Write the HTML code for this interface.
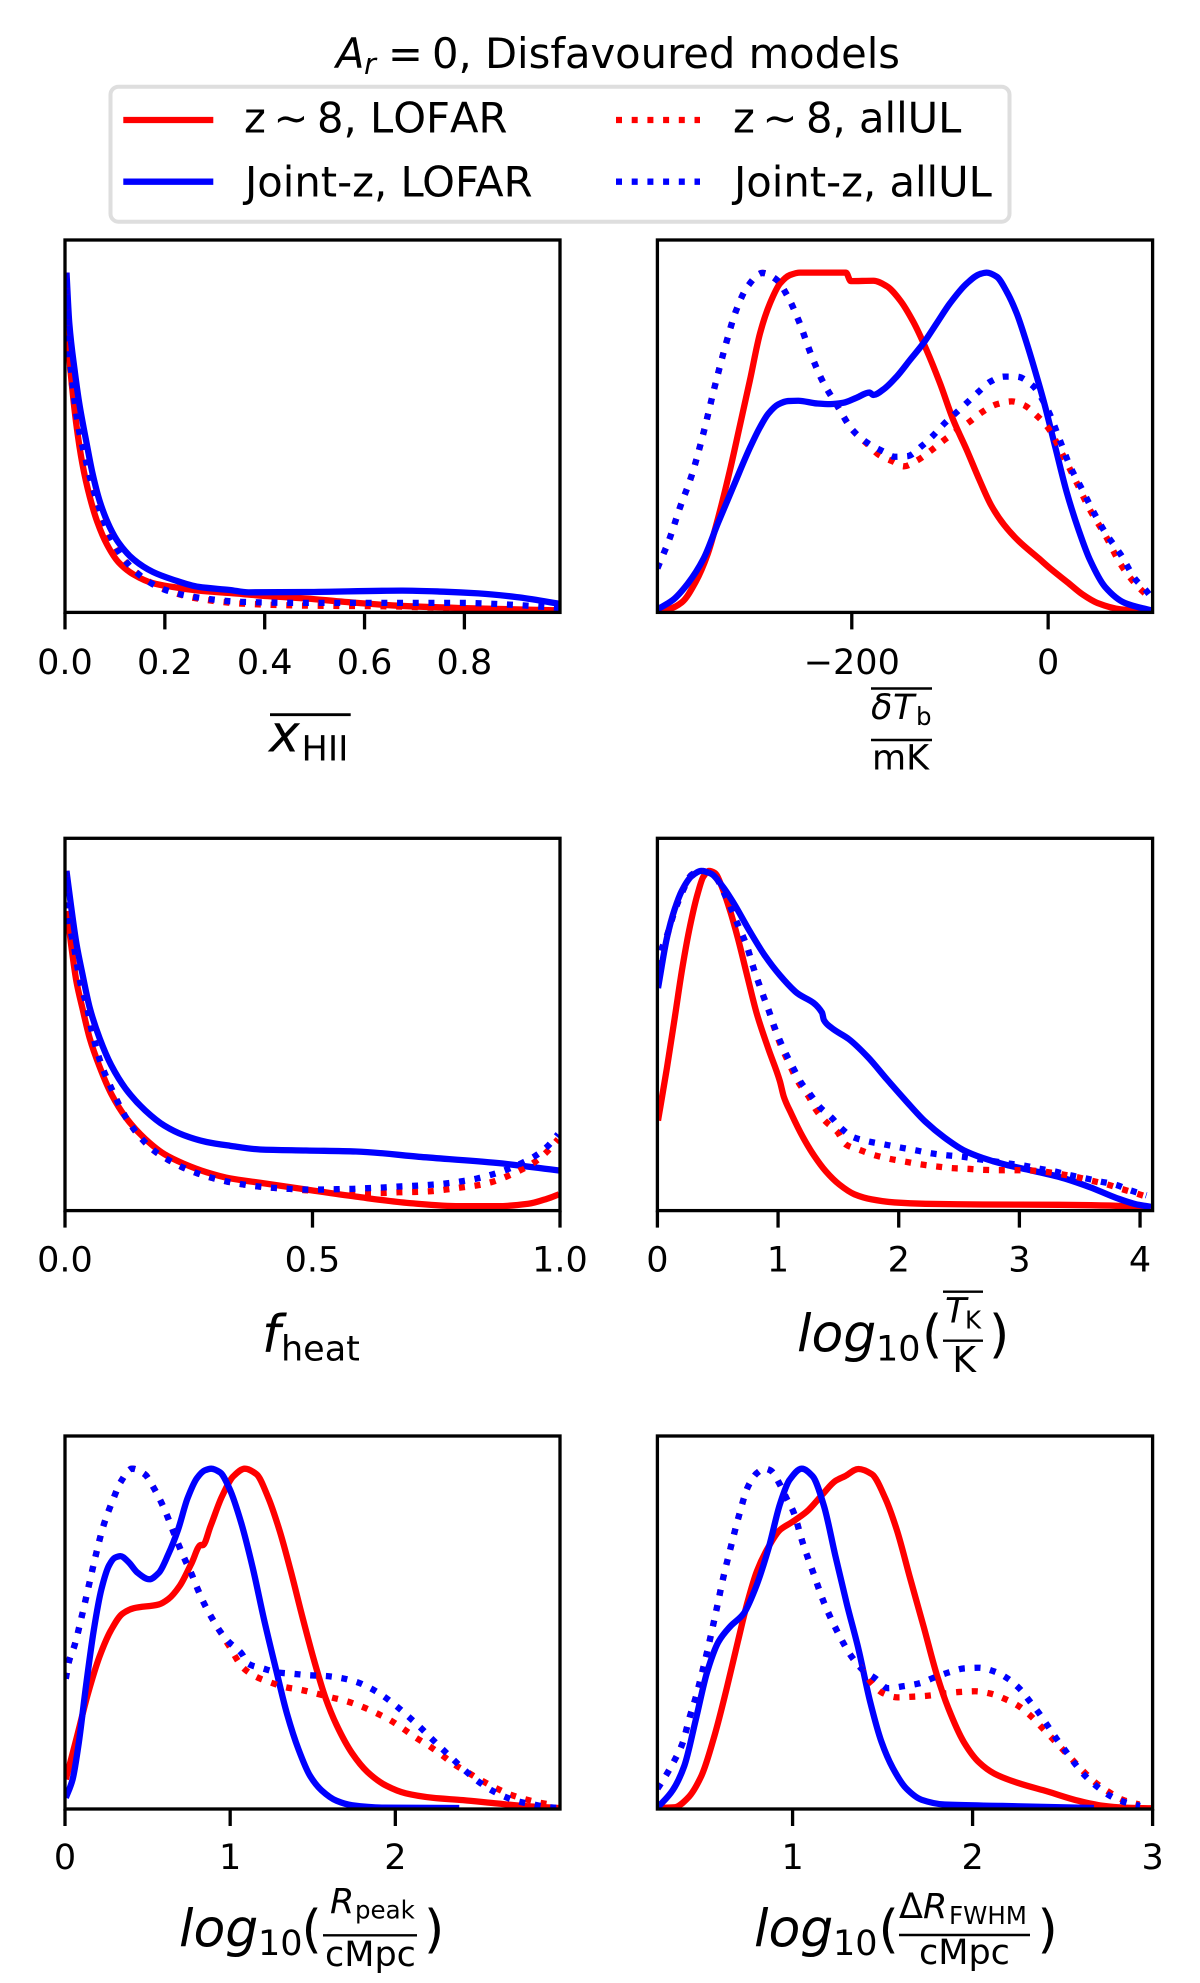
<!DOCTYPE html>
<html lang="en">
<head>
<meta charset="utf-8">
<title>A_r = 0, Disfavoured models</title>
<style>
html,body{margin:0;padding:0;background:#fff;}
svg{display:block;}
text{font-family:"DejaVu Sans","Liberation Sans",sans-serif;fill:#000;}
.m{font-style:italic;}
.nk{font-kerning:none;}
</style>
</head>
<body>
<svg id="figure" xmlns="http://www.w3.org/2000/svg" width="1200" height="1983" viewBox="0 0 1200 1983">
  <rect x="0" y="0" width="1200" height="1983" fill="#fff"/>
  <g id="panels"></g>

  <text y="68" font-size="41.67"><tspan class="m" x="336">A</tspan><tspan class="m" x="364" dy="6" font-size="29">r</tspan><tspan x="388" dy="-6">=</tspan><tspan x="432">0, Disfavoured models</tspan></text>

  <g>
    <rect x="110.5" y="86.7" width="899" height="135" rx="8" ry="8" fill="#fff" stroke="#dedede" stroke-width="4"/>
    <line x1="123.3" x2="213.3" y1="120" y2="120" stroke="#ff0000" stroke-width="6.3"/>
    <text class="nk" y="132.3" font-size="41.67"><tspan x="244">z</tspan><tspan x="273.5">∼</tspan><tspan x="317">8,</tspan><tspan x="370">LOFAR</tspan></text>
    <line x1="123.3" x2="213.3" y1="181.7" y2="181.7" stroke="#0000ff" stroke-width="6.3"/>
    <text x="245" y="196.5" font-size="41.67">Joint-z, LOFAR</text>
    <line x1="616" x2="700" y1="120" y2="120" stroke="#ff0000" stroke-width="6.3" stroke-dasharray="6 9.7"/>
    <text class="nk" y="132.3" font-size="41.67"><tspan x="733">z</tspan><tspan x="762.5">∼</tspan><tspan x="806">8,</tspan><tspan x="859">allUL</tspan></text>
    <line x1="616" x2="700" y1="181.7" y2="181.7" stroke="#0000ff" stroke-width="6.3" stroke-dasharray="6 9.7"/>
    <text x="734" y="196.5" font-size="41.67">Joint-z, allUL</text>
  </g>

  <g>
    <line x1="270" x2="350.7" y1="714.7" y2="714.7" stroke="#000" stroke-width="2.8"/>
    <text class="m" x="269" y="751.7" font-size="52">x</text>
    <text x="301.5" y="760.7" font-size="35">HII</text>
  </g>

  <g>
    <line x1="871" x2="932" y1="688.5" y2="688.5" stroke="#000" stroke-width="2.4"/>
    <text class="m" x="871" y="719" font-size="35">δ</text>
    <text class="m" x="893" y="719" font-size="35">T</text>
    <text x="916" y="725" font-size="24.5">b</text>
    <line x1="871" x2="932" y1="740" y2="740" stroke="#000" stroke-width="2.4"/>
    <text x="872" y="769.5" font-size="35">mK</text>
  </g>

  <g>
    <text class="m" x="262" y="1352" font-size="52">f</text>
    <text x="281" y="1360.5" font-size="35">heat</text>
  </g>

  <g>
    <text class="m" x="797" y="1351.7" font-size="52">log</text>
    <text x="876" y="1360.5" font-size="35">10</text>
    <text x="922" y="1352" font-size="52">(</text>
    <line x1="943" x2="983" y1="1291.7" y2="1291.7" stroke="#000" stroke-width="2.4"/>
    <text class="m" x="945" y="1322.7" font-size="35">T</text>
    <text x="965" y="1328.3" font-size="24.5">K</text>
    <line x1="943" x2="983" y1="1340.7" y2="1340.7" stroke="#000" stroke-width="2.4"/>
    <text x="952.4" y="1372" font-size="36">K</text>
    <text x="989" y="1352" font-size="52">)</text>
  </g>

  <g>
    <text class="m" x="179" y="1946.7" font-size="52">log</text>
    <text x="258" y="1955" font-size="35">10</text>
    <text x="301.5" y="1947" font-size="52">(</text>
    <text class="m" x="330" y="1913" font-size="35">R</text>
    <text x="355" y="1918.5" font-size="24.5">peak</text>
    <line x1="323" x2="417" y1="1935.3" y2="1935.3" stroke="#000" stroke-width="2.4"/>
    <text x="325" y="1966" font-size="35">cMpc</text>
    <text x="424" y="1947" font-size="52">)</text>
  </g>

  <g>
    <text class="m" x="754" y="1946.7" font-size="52">log</text>
    <text x="833" y="1955" font-size="35">10</text>
    <text x="878.5" y="1947" font-size="52">(</text>
    <text x="899" y="1918" font-size="35">Δ</text>
    <text class="m" x="923" y="1918" font-size="35">R</text>
    <text x="949" y="1924" font-size="24.5">FWHM</text>
    <line x1="899" x2="1030" y1="1935" y2="1935" stroke="#000" stroke-width="2.4"/>
    <text x="919" y="1964" font-size="35">cMpc</text>
    <text x="1037.5" y="1947" font-size="52">)</text>
  </g>
</svg>

<script>
/* ---------- x_HII ---------- */
const xhiiTicks = [0, 0.2, 0.4, 0.6, 0.8];
const xhiiTickLabels = ['0.0', '0.2', '0.4', '0.6', '0.8'];
const xhiiRedSolidX = [0.004,0.0115,0.023,0.0345,0.05,0.065,0.084,0.107,0.138,0.176,0.215,0.268,0.33,0.406,0.483,0.56,0.675,0.79,0.905,0.989];
const xhiiRedSolidY = [0.836,0.704,0.55,0.44,0.338,0.265,0.2,0.148,0.111,0.086,0.075,0.064,0.057,0.048,0.041,0.031,0.019,0.013,0.009,0.006];
const xhiiBlueSolidX = [0.003,0.0086,0.02,0.0286,0.0434,0.055,0.07,0.09,0.107,0.138,0.176,0.215,0.268,0.33,0.368,0.483,0.675,0.759,0.828,0.905,0.989];
const xhiiBlueSolidY = [1,0.851,0.705,0.615,0.497,0.41,0.325,0.25,0.206,0.155,0.119,0.097,0.075,0.066,0.059,0.06,0.064,0.061,0.056,0.045,0.026];
const xhiiRedDotX = [0.001,0.004,0.016,0.027,0.038,0.05,0.068,0.092,0.123,0.169,0.199,0.261,0.353,0.483,0.637,0.79,0.89,0.989];
const xhiiRedDotY = [1,0.85,0.645,0.53,0.455,0.385,0.3,0.215,0.145,0.09,0.068,0.042,0.026,0.02,0.018,0.012,0.009,0.006];
const xhiiBlueDotX = [0.001,0.004,0.016,0.027,0.038,0.05,0.068,0.092,0.123,0.169,0.199,0.261,0.353,0.483,0.637,0.79,0.89,0.989];
const xhiiBlueDotY = [1,0.865,0.66,0.543,0.47,0.397,0.309,0.221,0.148,0.089,0.067,0.045,0.031,0.028,0.028,0.028,0.023,0.013];

/* ---------- delta T_b ---------- */
const tbTicks = [-200, 0];
const tbTickLabels = ['\u2212200', '0'];
const tbRedSolidX = [-398,-386,-373,-359,-347,-336,-324,-313.9,-303.7,-293.5,-283.3,-273.1,-262.9,-252.7,-229,-205.9,-201.1,-178,-164.4,-150.9,-137.3,-123.8,-110.1,-96.6,-82.9,-70,-58,-45,-30,-10,3.5,20,35,50,74,105];
const tbRedSolidY = [0.004,0.01,0.03,0.09,0.17,0.28,0.42,0.551,0.684,0.821,0.91,0.968,0.993,1,1,1,0.975,0.976,0.96,0.919,0.855,0.772,0.674,0.566,0.478,0.39,0.315,0.258,0.21,0.16,0.126,0.088,0.053,0.028,0.009,0.003];
const tbBlueSolidX = [-398,-382.5,-367,-351,-336,-320,-303.7,-293.5,-285,-275,-265,-254.5,-235.7,-222.2,-208.6,-195,-182.1,-178,-167.9,-154.3,-140.7,-127.1,-113.5,-99.9,-82.9,-69.4,-62.6,-52.4,-42.2,-32,-21.8,-11.6,-4,7.4,19,31,42.5,58,78,105];
const tbBlueSolidY = [0.009,0.036,0.085,0.158,0.265,0.375,0.485,0.545,0.585,0.612,0.622,0.623,0.615,0.613,0.617,0.632,0.647,0.64,0.656,0.694,0.743,0.792,0.851,0.91,0.968,0.996,1,0.988,0.944,0.88,0.792,0.694,0.616,0.485,0.353,0.243,0.155,0.075,0.028,0.006];
const tbRedDotX = [-398,-386,-375,-363,-351,-340,-328,-318,-306,-291,-277,-265.5,-254,-242,-230,-215,-199,-184,-172,-158,-147,-133,-119,-106,-80,-67,-53,-37,-24,-12,0,15,29,42.5,58,74,85,97,105];
const tbRedDotY = [0.13,0.214,0.309,0.404,0.529,0.66,0.792,0.887,0.96,0.999,0.98,0.931,0.858,0.763,0.682,0.609,0.536,0.495,0.463,0.444,0.43,0.448,0.477,0.507,0.561,0.59,0.612,0.621,0.609,0.58,0.543,0.463,0.382,0.302,0.228,0.141,0.097,0.06,0.04];
const tbBlueDotX = [-398,-386,-375,-363,-351,-340,-328,-318,-306,-291,-277,-265.5,-254,-242,-230,-215,-199,-184,-168,-156,-143,-129,-117,-106,-94,-82,-71,-59,-45,-32,-16,0,11,23,35,46,58,74,89,99,105];
const tbBlueDotY = [0.13,0.214,0.309,0.404,0.529,0.66,0.792,0.887,0.96,0.999,0.98,0.931,0.858,0.763,0.682,0.609,0.536,0.499,0.474,0.458,0.46,0.489,0.521,0.555,0.587,0.619,0.649,0.679,0.694,0.694,0.668,0.594,0.514,0.426,0.36,0.297,0.236,0.17,0.097,0.067,0.045];

/* ---------- f_heat ---------- */
const fheatTicks = [0, 0.5, 1];
const fheatTickLabels = ['0.0', '0.5', '1.0'];
const fheatRedSolidX = [0.004,0.012,0.023,0.035,0.05,0.07,0.093,0.124,0.162,0.201,0.24,0.286,0.333,0.394,0.487,0.588,0.696,0.797,0.874,0.936,0.974,0.998];
const fheatRedSolidY = [0.882,0.787,0.675,0.597,0.507,0.423,0.345,0.272,0.211,0.166,0.138,0.113,0.095,0.082,0.062,0.041,0.022,0.013,0.013,0.02,0.035,0.048];
const fheatBlueSolidX = [0.003,0.012,0.023,0.035,0.05,0.07,0.093,0.124,0.162,0.201,0.24,0.286,0.333,0.394,0.487,0.588,0.719,0.874,0.998];
const fheatBlueSolidY = [1,0.899,0.787,0.698,0.597,0.507,0.429,0.356,0.295,0.25,0.222,0.202,0.191,0.18,0.177,0.174,0.158,0.14,0.118];
const fheatRedDotX = [0.001,0.006,0.019,0.032,0.043,0.054,0.071,0.093,0.124,0.159,0.182,0.209,0.238,0.267,0.298,0.329,0.36,0.391,0.422,0.454,0.485,0.58,0.611,0.642,0.674,0.706,0.739,0.77,0.8,0.831,0.862,0.89,0.92,0.949,0.972,0.996];
const fheatRedDotY = [1,0.877,0.77,0.664,0.608,0.53,0.44,0.362,0.272,0.205,0.174,0.149,0.127,0.11,0.096,0.085,0.077,0.071,0.067,0.064,0.06,0.054,0.052,0.052,0.054,0.055,0.057,0.062,0.068,0.074,0.084,0.099,0.119,0.143,0.171,0.21];
const fheatBlueDotX = [0.001,0.006,0.019,0.032,0.043,0.054,0.071,0.093,0.124,0.159,0.182,0.209,0.238,0.267,0.298,0.329,0.36,0.391,0.422,0.454,0.485,0.518,0.549,0.58,0.611,0.642,0.674,0.706,0.739,0.77,0.8,0.831,0.862,0.893,0.92,0.949,0.974,0.996];
const fheatBlueDotY = [1,0.877,0.77,0.664,0.608,0.53,0.44,0.362,0.272,0.205,0.174,0.149,0.127,0.11,0.096,0.085,0.077,0.071,0.067,0.064,0.062,0.062,0.063,0.064,0.066,0.068,0.071,0.073,0.076,0.08,0.086,0.094,0.106,0.121,0.138,0.16,0.188,0.225];

/* ---------- log10(T_K) ---------- */
const tkTicks = [0, 1, 2, 3, 4];
const tkTickLabels = ['0', '1', '2', '3', '4'];
const tkRedSolidX = [0.005,0.079,0.143,0.206,0.27,0.333,0.381,0.428,0.476,0.539,0.603,0.666,0.745,0.825,0.92,1.015,1.047,1.11,1.205,1.3,1.395,1.507,1.633,1.776,1.966,2.22,2.696,3.33,3.964,4.09];
const tkRedSolidY = [0.265,0.42,0.566,0.713,0.837,0.932,0.983,1,0.994,0.949,0.882,0.803,0.69,0.578,0.476,0.381,0.336,0.285,0.217,0.161,0.116,0.077,0.048,0.033,0.024,0.02,0.018,0.017,0.012,0.007];
const tkBlueSolidX = [0.005,0.079,0.143,0.206,0.285,0.365,0.444,0.539,0.634,0.761,0.888,1.015,1.142,1.364,1.38,1.443,1.586,1.744,1.903,2.062,2.22,2.379,2.537,2.696,2.886,3.076,3.33,3.584,3.806,3.964,4.091];
const tkBlueSolidY = [0.655,0.803,0.887,0.944,0.985,1,0.992,0.955,0.904,0.825,0.752,0.693,0.645,0.583,0.561,0.538,0.505,0.452,0.386,0.322,0.262,0.215,0.178,0.155,0.135,0.12,0.099,0.069,0.037,0.019,0.011];
const tkRedDotX = [0.005,0.025,0.079,0.143,0.206,0.285,0.365,0.476,0.571,0.666,0.745,0.793,0.882,0.926,0.967,1.015,1.078,1.173,1.253,1.316,1.395,1.491,1.56,1.681,1.801,1.928,2.055,2.182,2.315,2.442,2.569,2.696,2.829,2.959,3.092,3.219,3.346,3.473,3.6,3.727,3.853,3.964,4.091];
const tkRedDotY = [0.72,0.758,0.809,0.882,0.938,0.989,1,0.983,0.921,0.842,0.775,0.718,0.628,0.586,0.54,0.493,0.443,0.375,0.336,0.296,0.262,0.232,0.195,0.178,0.163,0.152,0.144,0.136,0.13,0.125,0.123,0.12,0.119,0.119,0.118,0.114,0.107,0.099,0.088,0.077,0.063,0.051,0.037];
const tkBlueDotX = [0.005,0.025,0.079,0.143,0.206,0.285,0.365,0.476,0.571,0.666,0.745,0.793,0.882,0.926,0.967,1.015,1.069,1.126,1.189,1.269,1.348,1.443,1.522,1.617,1.744,1.878,2.008,2.134,2.261,2.395,2.521,2.648,2.775,2.902,3.029,3.156,3.283,3.409,3.536,3.663,3.79,3.917,4.053];
const tkBlueDotY = [0.72,0.758,0.809,0.882,0.938,0.989,1,0.983,0.921,0.842,0.775,0.718,0.628,0.586,0.544,0.501,0.459,0.42,0.378,0.341,0.304,0.274,0.243,0.217,0.204,0.195,0.186,0.178,0.169,0.163,0.159,0.152,0.146,0.139,0.133,0.124,0.116,0.105,0.096,0.086,0.077,0.06,0.045];

/* ---------- log10(R_peak) ---------- */
const rpeakTicks = [0, 1, 2];
const rpeakTickLabels = ['0', '1', '2'];
const rpeakRedSolidX = [0.005,0.07,0.139,0.209,0.278,0.348,0.417,0.568,0.626,0.695,0.765,0.823,0.834,0.881,0.95,1.02,1.089,1.159,1.228,1.298,1.367,1.437,1.506,1.576,1.645,1.738,1.831,1.947,2.063,2.225,2.41,2.619,2.804,2.99];
const rpeakRedSolidY = [0.087,0.208,0.339,0.448,0.525,0.574,0.59,0.601,0.617,0.656,0.721,0.776,0.775,0.831,0.918,0.978,1,0.984,0.918,0.82,0.699,0.565,0.44,0.328,0.246,0.164,0.109,0.068,0.046,0.033,0.026,0.016,0.008,0.003];
const rpeakBlueSolidX = [0.005,0.046,0.081,0.127,0.174,0.22,0.267,0.301,0.336,0.382,0.44,0.51,0.568,0.626,0.684,0.742,0.8,0.846,0.885,0.939,0.997,1.066,1.136,1.205,1.275,1.344,1.414,1.483,1.553,1.645,1.738,1.924,2.387];
const rpeakBlueSolidY = [0.033,0.087,0.186,0.361,0.525,0.645,0.716,0.738,0.743,0.727,0.694,0.675,0.694,0.749,0.82,0.913,0.973,0.995,1,0.989,0.94,0.842,0.71,0.557,0.415,0.28,0.175,0.098,0.055,0.024,0.011,0.004,0.003];
const rpeakRedDotX = [0.005,0.023,0.058,0.1,0.144,0.185,0.232,0.294,0.336,0.406,0.482,0.538,0.579,0.619,0.654,0.688,0.725,0.765,0.8,0.839,0.885,0.932,0.99,1.078,1.159,1.244,1.333,1.43,1.523,1.611,1.703,1.796,1.884,1.965,2.044,2.12,2.202,2.283,2.357,2.433,2.521,2.603,2.688,2.776,2.869,2.966];
const rpeakRedDotY = [0.383,0.432,0.481,0.563,0.656,0.743,0.831,0.913,0.96,1,0.984,0.943,0.905,0.861,0.817,0.776,0.734,0.692,0.65,0.607,0.565,0.527,0.482,0.415,0.388,0.372,0.358,0.35,0.339,0.328,0.317,0.301,0.282,0.262,0.237,0.211,0.186,0.158,0.131,0.109,0.084,0.063,0.044,0.03,0.019,0.011];
const rpeakBlueDotX = [0.005,0.023,0.058,0.1,0.144,0.185,0.232,0.294,0.336,0.406,0.482,0.538,0.579,0.619,0.654,0.688,0.725,0.765,0.8,0.839,0.885,0.932,0.99,1.066,1.112,1.198,1.291,1.386,1.479,1.576,1.669,1.761,1.849,1.93,2.005,2.076,2.144,2.213,2.283,2.352,2.422,2.491,2.572,2.654,2.746,2.839,2.932,2.99];
const rpeakBlueDotY = [0.383,0.432,0.481,0.563,0.656,0.743,0.831,0.913,0.96,1,0.984,0.943,0.905,0.861,0.817,0.776,0.734,0.692,0.65,0.607,0.565,0.527,0.492,0.459,0.426,0.413,0.401,0.397,0.393,0.391,0.385,0.374,0.355,0.331,0.303,0.273,0.243,0.21,0.177,0.145,0.113,0.085,0.058,0.038,0.022,0.013,0.005,0.003];

/* ---------- log10(delta R_FWHM) ---------- */
const rfwhmTicks = [1, 2, 3];
const rfwhmTickLabels = ['1', '2', '3'];
const rfwhmRedSolidX = [0.25,0.345,0.419,0.494,0.568,0.632,0.696,0.749,0.802,0.866,0.93,0.994,1.079,1.164,1.238,1.291,1.366,1.44,1.515,1.579,1.653,1.728,1.802,1.866,1.951,2.036,2.121,2.249,2.419,2.589,2.717,2.845,2.994];
const rfwhmRedSolidY = [0.003,0.005,0.033,0.098,0.219,0.35,0.492,0.607,0.699,0.77,0.82,0.842,0.874,0.923,0.964,0.978,0.999,0.984,0.913,0.82,0.678,0.536,0.393,0.295,0.197,0.137,0.104,0.077,0.051,0.024,0.01,0.004,0.002];
const rfwhmBlueSolidX = [0.25,0.334,0.398,0.462,0.526,0.589,0.653,0.728,0.791,0.866,0.93,0.983,1.051,1.111,1.174,1.238,1.302,1.366,1.43,1.494,1.557,1.632,1.717,1.845,2.164,2.674];
const rfwhmBlueSolidY = [0.004,0.055,0.126,0.262,0.404,0.492,0.536,0.574,0.645,0.765,0.896,0.967,1,0.978,0.891,0.743,0.601,0.47,0.317,0.197,0.12,0.06,0.027,0.013,0.009,0.003];
const rfwhmRedDotX = [0.25,0.306,0.349,0.387,0.43,0.462,0.504,0.543,0.579,0.615,0.657,0.7,0.753,0.802,0.845,0.877,0.93,0.966,1.004,1.057,1.115,1.174,1.245,1.33,1.387,1.436,1.5,1.583,1.67,1.755,1.84,1.93,2.015,2.1,2.185,2.26,2.328,2.387,2.447,2.511,2.568,2.628,2.691,2.76,2.834,2.926];
const rfwhmRedDotY = [0.06,0.107,0.148,0.191,0.273,0.328,0.415,0.503,0.59,0.68,0.77,0.858,0.948,0.987,1,0.995,0.953,0.913,0.874,0.781,0.694,0.607,0.525,0.446,0.41,0.372,0.341,0.328,0.33,0.333,0.339,0.344,0.346,0.339,0.322,0.301,0.271,0.238,0.205,0.169,0.137,0.104,0.074,0.049,0.027,0.013];
const rfwhmBlueDotX = [0.25,0.306,0.349,0.387,0.43,0.462,0.504,0.543,0.579,0.615,0.657,0.7,0.753,0.802,0.845,0.877,0.93,0.966,1.004,1.057,1.115,1.174,1.245,1.33,1.387,1.462,1.53,1.617,1.702,1.781,1.866,1.951,2.036,2.121,2.196,2.264,2.317,2.37,2.419,2.468,2.519,2.572,2.628,2.691,2.766,2.845,2.93];
const rfwhmBlueDotY = [0.06,0.107,0.148,0.191,0.273,0.328,0.415,0.503,0.59,0.68,0.77,0.858,0.948,0.987,1,0.995,0.953,0.913,0.874,0.781,0.694,0.607,0.525,0.446,0.41,0.383,0.355,0.361,0.369,0.385,0.401,0.413,0.415,0.404,0.383,0.352,0.317,0.281,0.243,0.205,0.169,0.131,0.096,0.066,0.038,0.02,0.009];

const SVG_NS = 'http://www.w3.org/2000/svg';
const RED = '#ff0000';
const BLUE = '#0000ff';
const Y_MAX = 1.096;
const DOT_PATTERN = '6 9.7';

const panelDefs = [
  {id:'xhii',  col:0, row:0, xMin:0,     xMax:0.9915, ticks:xhiiTicks,  labels:xhiiTickLabels,  rs:[xhiiRedSolidX,xhiiRedSolidY],   bs:[xhiiBlueSolidX,xhiiBlueSolidY],   rd:[xhiiRedDotX,xhiiRedDotY],   bd:[xhiiBlueDotX,xhiiBlueDotY]},
  {id:'tb',    col:1, row:0, xMin:-398,  xMax:106.4,  ticks:tbTicks,    labels:tbTickLabels,    rs:[tbRedSolidX,tbRedSolidY],       bs:[tbBlueSolidX,tbBlueSolidY],       rd:[tbRedDotX,tbRedDotY],       bd:[tbBlueDotX,tbBlueDotY]},
  {id:'fheat', col:0, row:1, xMin:0,     xMax:1,      ticks:fheatTicks, labels:fheatTickLabels, rs:[fheatRedSolidX,fheatRedSolidY], bs:[fheatBlueSolidX,fheatBlueSolidY], rd:[fheatRedDotX,fheatRedDotY], bd:[fheatBlueDotX,fheatBlueDotY]},
  {id:'tk',    col:1, row:1, xMin:0,     xMax:4.104,  ticks:tkTicks,    labels:tkTickLabels,    rs:[tkRedSolidX,tkRedSolidY],       bs:[tkBlueSolidX,tkBlueSolidY],       rd:[tkRedDotX,tkRedDotY],       bd:[tkBlueDotX,tkBlueDotY]},
  {id:'rpeak', col:0, row:2, xMin:0,     xMax:2.997,  ticks:rpeakTicks, labels:rpeakTickLabels, rs:[rpeakRedSolidX,rpeakRedSolidY], bs:[rpeakBlueSolidX,rpeakBlueSolidY], rd:[rpeakRedDotX,rpeakRedDotY], bd:[rpeakBlueDotX,rpeakBlueDotY]},
  {id:'rfwhm', col:1, row:2, xMin:0.249, xMax:3,      ticks:rfwhmTicks, labels:rfwhmTickLabels, rs:[rfwhmRedSolidX,rfwhmRedSolidY], bs:[rfwhmBlueSolidX,rfwhmBlueSolidY], rd:[rfwhmRedDotX,rfwhmRedDotY], bd:[rfwhmBlueDotX,rfwhmBlueDotY]}
];
const colEdges = [[65, 560], [657.4, 1152.6]];
const rowEdges = [[240, 612.4, 674], [838.3, 1210.6, 1271.5], [1436, 1809, 1869]];

function make(tag) {
  return document.createElementNS(SVG_NS, tag);
}

/* monotone cubic through pixel points */
function curvePath(px, py) {
  const n = px.length;
  const d = [];
  const m = new Array(n).fill(0);
  for (let i = 0; i < n - 1; i++) d.push((py[i + 1] - py[i]) / (px[i + 1] - px[i]));
  m[0] = d[0];
  m[n - 1] = d[n - 2];
  for (let i = 1; i < n - 1; i++) {
    if (d[i - 1] * d[i] <= 0) { m[i] = 0; continue; }
    const h0 = px[i] - px[i - 1];
    const h1 = px[i + 1] - px[i];
    const w0 = 2 * h1 + h0;
    const w1 = h1 + 2 * h0;
    m[i] = (w0 + w1) / (w0 / d[i - 1] + w1 / d[i]);
  }
  let s = 'M' + px[0].toFixed(2) + ' ' + py[0].toFixed(2);
  for (let i = 0; i < n - 1; i++) {
    const h = (px[i + 1] - px[i]) / 3;
    s += 'C' + (px[i] + h).toFixed(2) + ' ' + (py[i] + m[i] * h).toFixed(2) + ' ' +
         (px[i + 1] - h).toFixed(2) + ' ' + (py[i + 1] - m[i + 1] * h).toFixed(2) + ' ' +
         px[i + 1].toFixed(2) + ' ' + py[i + 1].toFixed(2);
  }
  return s;
}

function drawPanel(def) {
  const x0 = colEdges[def.col][0];
  const x1 = colEdges[def.col][1];
  const yTop = rowEdges[def.row][0];
  const yBase = rowEdges[def.row][1];
  const yLabel = rowEdges[def.row][2];
  const xScale = function (v) { return x0 + (v - def.xMin) / (def.xMax - def.xMin) * (x1 - x0); };
  const yScale = function (v) { return yBase - v / Y_MAX * (yBase - yTop); };

  const group = make('g');
  
  

  const clip = make('clipPath');
  clip.id = 'clip-' + def.id;
  const clipRect = make('rect');
  clipRect.setAttribute('x', x0);
  clipRect.setAttribute('y', yTop);
  clipRect.setAttribute('width', x1 - x0);
  clipRect.setAttribute('height', yBase - yTop);
  clip.appendChild(clipRect);
  group.appendChild(clip);

  const seriesList = [
    {key:'red-lofar',  data:def.rs, color:RED,  dotted:false},
    {key:'blue-lofar', data:def.bs, color:BLUE, dotted:false},
    {key:'red-allul',  data:def.rd, color:RED,  dotted:true},
    {key:'blue-allul', data:def.bd, color:BLUE, dotted:true}
  ];
  seriesList.forEach(function (series) {
    const path = make('path');
    
    
    path.setAttribute('d', curvePath(series.data[0].map(xScale), series.data[1].map(yScale)));
    path.setAttribute('fill', 'none');
    path.setAttribute('stroke', series.color);
    path.setAttribute('stroke-width', '6.3');
    path.setAttribute('stroke-linejoin', 'round');
    if (series.dotted) path.setAttribute('stroke-dasharray', DOT_PATTERN);
    path.setAttribute('clip-path', 'url(#clip-' + def.id + ')');
    group.appendChild(path);
  });

  const frame = make('rect');
  
  
  frame.setAttribute('x', x0);
  frame.setAttribute('y', yTop);
  frame.setAttribute('width', x1 - x0);
  frame.setAttribute('height', yBase - yTop);
  frame.setAttribute('fill', 'none');
  frame.setAttribute('stroke', '#000');
  frame.setAttribute('stroke-width', '3.3');
  group.appendChild(frame);

  def.ticks.forEach(function (value, i) {
    const tx = xScale(value);
    const tick = make('line');
    
    
    tick.setAttribute('x1', tx);
    tick.setAttribute('x2', tx);
    tick.setAttribute('y1', yBase);
    tick.setAttribute('y2', yBase + 17);
    tick.setAttribute('stroke', '#000');
    tick.setAttribute('stroke-width', '3.3');
    group.appendChild(tick);

    const label = make('text');
    
    
    label.setAttribute('x', tx);
    label.setAttribute('y', yLabel);
    label.setAttribute('text-anchor', 'middle');
    label.setAttribute('font-size', '35');
    label.textContent = def.labels[i];
    group.appendChild(label);
  });

  document.getElementById('panels').appendChild(group);
}

panelDefs.forEach(drawPanel);
</script>
</body>
</html>
